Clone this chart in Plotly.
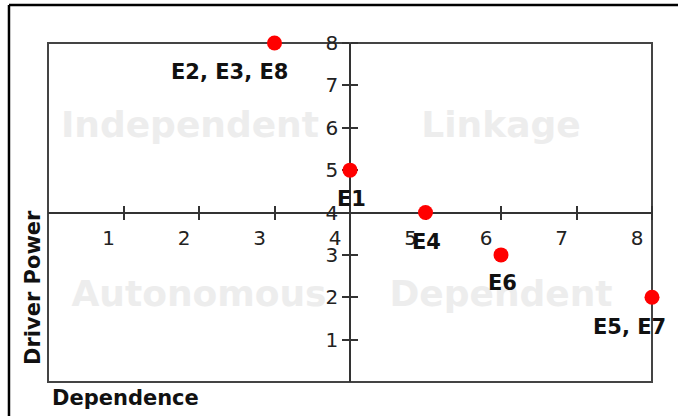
import plotly.graph_objects as go

# Data
dependence = [3, 4, 5, 6, 8]
driver_power = [8, 5, 4, 3, 2]
point_labels = ["E2, E3, E8", "E1", "E4", "E6", "E5, E7"]
label_xshift = [-45, 1, 1, 1, -23]
label_yshift = [-29, -29, -29, -28, -30]

quadrant_names = ["Independent", "Linkage", "Autonomous", "Dependent"]
quadrant_x = [1.88, 6, 2, 6]
quadrant_y = [6, 6, 2, 2]

tick_vals = [1, 2, 3, 4, 5, 6, 7, 8]
tick_text = ["1", "2", "3", "4", "5", "6", "7", "8"]

FONT = "DejaVu Sans"
AXC = "#333333"

fig = go.Figure()

# quadrant watermark labels
fig.add_trace(go.Scatter(
    x=quadrant_x, y=quadrant_y, mode="text", text=quadrant_names,
    textfont=dict(family=FONT, size=36, color="#ededed", weight="bold"),
    hoverinfo="skip", showlegend=False,
))

# points
fig.add_trace(go.Scatter(
    x=dependence, y=driver_power, mode="markers",
    marker=dict(color="#ff0000", size=15),
    showlegend=False, cliponaxis=False,
))

# dummy for secondary tick axes
fig.add_trace(go.Scatter(x=[None], y=[None], xaxis="x2", yaxis="y2", showlegend=False))

for xv, yv, t, xs, ys in zip(dependence, driver_power, point_labels, label_xshift, label_yshift):
    fig.add_annotation(x=xv, y=yv, text=t, showarrow=False, xshift=xs, yshift=ys,
                       font=dict(family=FONT, size=21, color="#111111", weight="bold"))

fig.add_annotation(xref="paper", yref="paper", x=-0.025, y=0.28, text="Driver Power",
                   textangle=-90, showarrow=False, xanchor="center", yanchor="middle",
                   font=dict(family=FONT, size=21, color="#111111", weight="bold"))
fig.add_annotation(xref="paper", yref="paper", x=0.003, y=-0.047, text="Dependence",
                   showarrow=False, xanchor="left", yanchor="middle",
                   font=dict(family=FONT, size=21, color="#111111", weight="bold"))

# plot frame
fig.add_shape(type="rect", xref="paper", yref="paper", x0=0, y0=0, x1=1, y1=1,
              line=dict(color="#444444", width=2), layer="below")
# outer border (top and left)
fig.add_shape(type="line", xref="paper", yref="paper", x0=-0.0646, x1=1.05, y0=1.112, y1=1.112,
              line=dict(color="#000000", width=2.5))
fig.add_shape(type="line", xref="paper", yref="paper", x0=-0.0646, x1=-0.0646, y0=1.112, y1=-0.12,
              line=dict(color="#000000", width=2.5))

tickfont = dict(family=FONT, size=20, color="#222222")

fig.update_layout(
    width=678, height=416,
    margin=dict(l=48, r=26, t=43, b=34),
    paper_bgcolor="white", plot_bgcolor="white",
    xaxis=dict(range=[0, 8], anchor="free", position=0.5, side="bottom", layer="below traces",
               showgrid=False, zeroline=False, showline=True, linecolor=AXC, linewidth=1.5,
               ticks="outside", ticklen=7, tickwidth=1.5, tickcolor=AXC,
               tickvals=tick_vals, ticktext=tick_text, tickfont=tickfont,
               ticklabelshift=-15, ticklabelstandoff=1),
    yaxis=dict(range=[0, 8], anchor="free", position=0.5, side="left", layer="below traces",
               showgrid=False, zeroline=False, showline=True, linecolor=AXC, linewidth=1.5,
               ticks="outside", ticklen=7, tickwidth=1.5, tickcolor=AXC,
               tickvals=tick_vals, ticktext=tick_text, tickfont=tickfont),
    xaxis2=dict(range=[0, 8], overlaying="x", anchor="free", position=0.5, side="top",
                layer="below traces",
                showgrid=False, zeroline=False, showline=False,
                ticks="outside", ticklen=7, tickwidth=1.5, tickcolor=AXC,
                tickvals=tick_vals, showticklabels=False),
    yaxis2=dict(range=[0, 8], overlaying="y", anchor="free", position=0.5, side="right",
                layer="below traces",
                showgrid=False, zeroline=False, showline=False,
                ticks="outside", ticklen=7, tickwidth=1.5, tickcolor=AXC,
                tickvals=tick_vals, showticklabels=False),
)

fig.write_html("out.html", config={"displayModeBar": False},
               post_script="document.body.style.margin='0px';")
